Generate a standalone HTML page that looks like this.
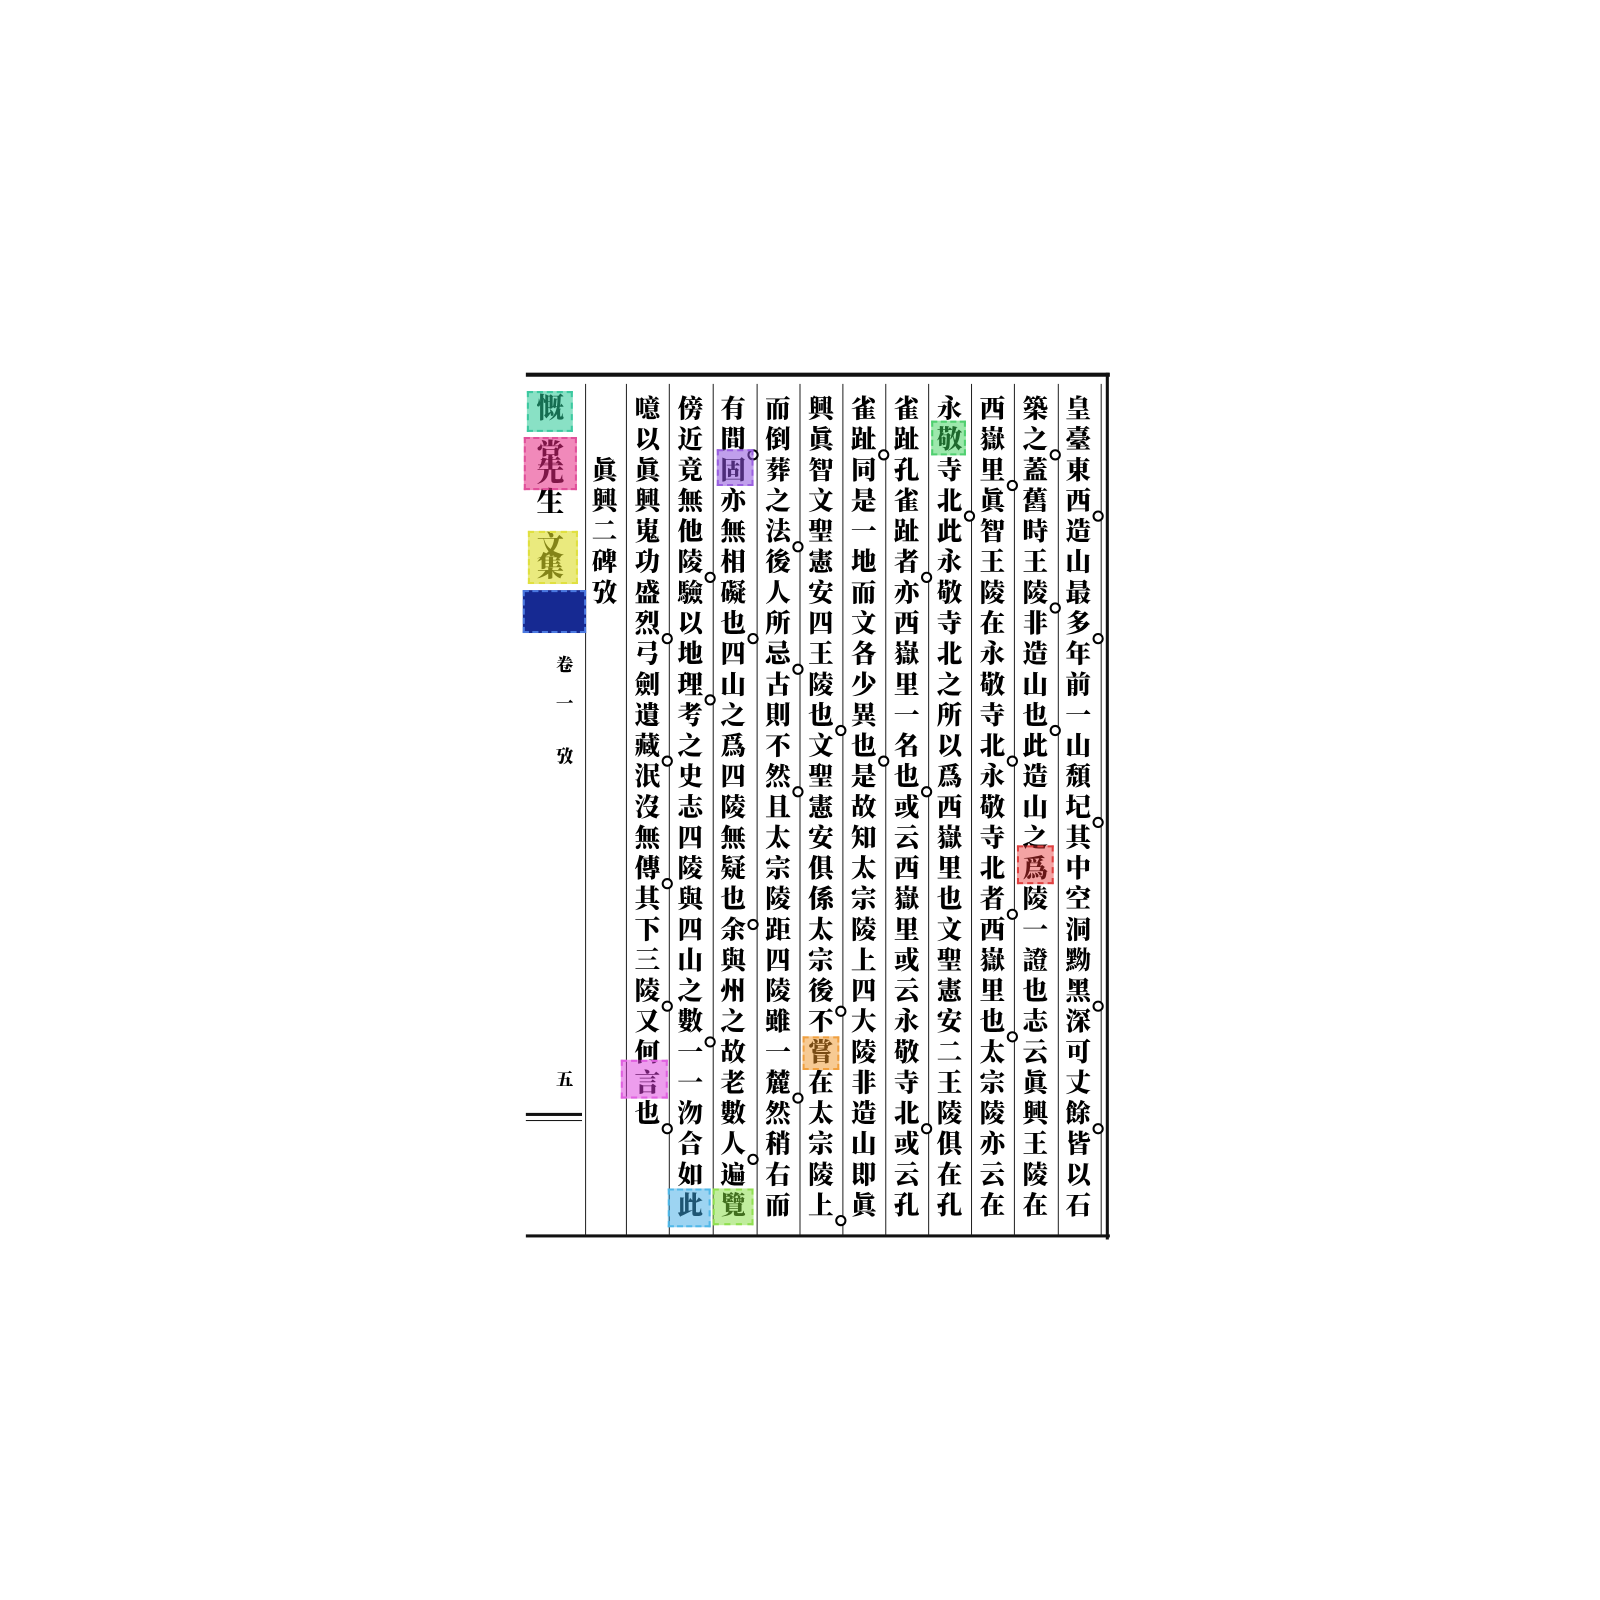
<!DOCTYPE html>
<html><head><meta charset="utf-8">
<style>
html,body{margin:0;padding:0;background:#fff;}
#page{position:relative;width:1600px;height:1600px;overflow:hidden;background:#fff;}
#inner{position:absolute;left:-2px;top:0;width:1560px;height:1560px;transform:scale(1.021);transform-origin:0 0;font-family:"Liberation Serif","Noto Serif CJK SC","Noto Sans CJK TC",serif;}
.ch{position:absolute;width:34px;text-align:center;font-size:25px;font-weight:900;line-height:30px;color:#000;}
.vl{position:absolute;width:1px;background:#222;}
.box{position:absolute;border:2px dashed;box-sizing:border-box;}
.dot{position:absolute;width:7px;height:7px;border:2px solid #000;border-radius:50%;background:#fff;}
</style></head>
<body>
<div id="page">
<div id="inner">
 <div style="position:absolute;left:517px;top:365px;width:572px;height:4px;background:#111"></div>
 <div style="position:absolute;left:1085px;top:365px;width:3px;height:849px;background:#111"></div>
 <div style="position:absolute;left:517px;top:1209px;width:572px;height:3px;background:#111"></div>
 <div style="position:absolute;left:517px;top:1090px;width:55px;height:3px;background:#111"></div>
 <div style="position:absolute;left:517px;top:1097px;width:55px;height:1px;background:#111"></div>
</div>
</div>
<script>
const cols=[
 [1058,"皇臺東西造山最多年前一山頹圮其中空洞黝黑深可丈餘皆以石"],
 [1016,"築之蓋舊時王陵非造山也此造山之爲陵一證也志云眞興王陵在"],
 [974,"西嶽里眞智王陵在永敬寺北永敬寺北者西嶽里也太宗陵亦云在"],
 [932,"永敬寺北此永敬寺北之所以爲西嶽里也文聖憲安二王陵俱在孔"],
 [890,"雀趾孔雀趾者亦西嶽里一名也或云西嶽里或云永敬寺北或云孔"],
 [848,"雀趾同是一地而文各少異也是故知太宗陵上四大陵非造山即眞"],
 [806,"興眞智文聖憲安四王陵也文聖憲安俱係太宗後不嘗在太宗陵上"],
 [764,"而倒葬之法後人所忌古則不然且太宗陵距四陵雖一麓然稍右而"],
 [720,"有間固亦無相礙也四山之爲四陵無疑也余與州之故老數人遍覽"],
 [678,"傍近竟無他陵驗以地理考之史志四陵與四山之數一一沕合如此"],
 [636,"噫以眞興嵬功盛烈弓劍遺藏泯沒無傳其下三陵又何言也"]
];
const page=document.getElementById('inner');
function ch(x,y,t,size){
 const d=document.createElement('div');d.className='ch';
 
 
 d.style.left=(x-17)+'px';d.style.top=(y-15)+'px';d.textContent=t;
 if(size)d.style.fontSize=size+'px';
 page.appendChild(d);
}
cols.forEach(([x,s])=>{[...s].forEach((c,i)=>ch(x,402+i*30,c));});
[..."眞興二碑攷"].forEach((c,i)=>ch(594,462+i*30,c));
ch(555,652,"卷",17);ch(555,690,"一",17);ch(555,742,"攷",17);ch(555,1058,"五",17);
[["慨",400],["堂",445],["先",462],["生",492],["文",535],["集",555]].forEach(([c,y])=>ch(541,y,c,27));
const lines=[1080,1038,995,953,911,869,827,785,743,700,657,615,575];
lines.forEach(x=>{const v=document.createElement('div');v.className='vl';
 
 
 v.style.left=x+'px';v.style.top='376px';v.style.height='834px';page.appendChild(v);});
const dots=[[1072,500],[1072,620],[1072,800],[1072,980],[1072,1100],[1030,440],[1030,590],[1030,710],[988,470],[988,740],[988,890],[988,1010],[946,500],[904,560],[904,770],[904,1100],[862,440],[862,740],[820,710],[820,985],[820,1190],[778,530],[778,650],[778,770],[778,1070],[734,440],[734,620],[734,900],[734,1130],[692,560],[692,680],[692,1015],[650,620],[650,740],[650,860],[650,980],[650,1100]];
dots.forEach(([x,y])=>{const d=document.createElement('div');d.className='dot';
 
 
 d.style.left=x+'px';d.style.top=y+'px';page.appendChild(d);});
const boxes=[
 [518,383,45,40,'#3cc9a0','rgba(40,200,150,0.55)'],
 [515,428,52,52,'#e0509a','rgba(230,40,130,0.55)'],
 [519,520,49,52,'#e0e040','rgba(220,220,40,0.6)'],
 [514,578,62,42,'#4a78e0','rgba(10,30,140,0.95)'],
 [998,828,36,38,'#e04040','rgba(230,50,50,0.45)'],
 [914,412,34,34,'#50d070','rgba(60,210,90,0.5)'],
 [704,440,36,36,'#9a60e0','rgba(140,80,220,0.55)'],
 [788,1015,36,33,'#f0a040','rgba(240,150,40,0.5)'],
 [610,1038,46,38,'#e060e0','rgba(220,60,220,0.5)'],
 [656,1164,42,38,'#50b8e8','rgba(60,170,230,0.5)'],
 [700,1164,40,36,'#90e050','rgba(130,220,60,0.5)']
];
boxes.forEach(([x,y,w,h,b,f])=>{const d=document.createElement('div');d.className='box';
 
 
 d.style.left=x+'px';d.style.top=y+'px';d.style.width=w+'px';d.style.height=h+'px';
 d.style.borderColor=b;d.style.background=f;page.appendChild(d);});
</script>
</body></html>
